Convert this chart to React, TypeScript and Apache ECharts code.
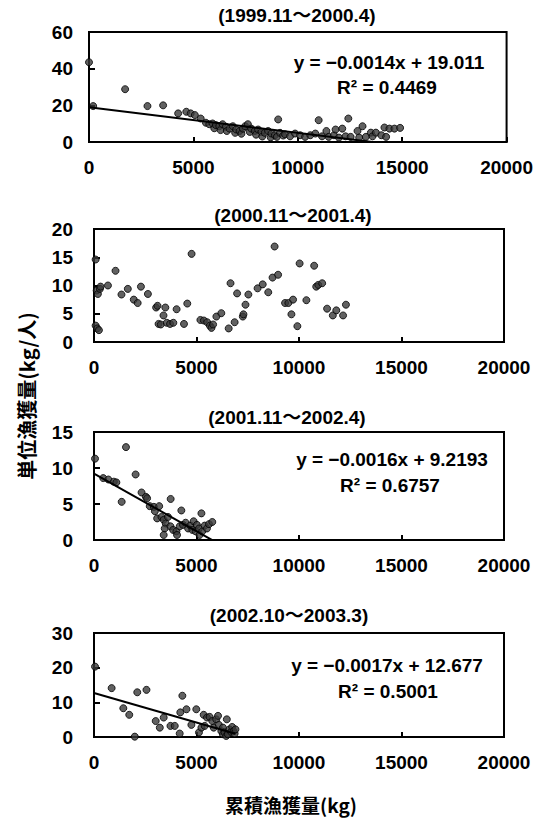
import React, { useEffect, useRef } from "react";
import * as echarts from "echarts";

// ---------- data ----------
const periodTitles = [
  "(1999.11～2000.4)",
  "(2000.11～2001.4)",
  "(2001.11～2002.4)",
  "(2002.10～2003.3)",
];
const yMaxes = [60, 20, 15, 30];
const yIntervals = [20, 5, 5, 10];
const xMax = 20000;
const xInterval = 5000;

const slopes: (number | null)[] = [-0.0014, null, -0.0016, -0.0017];
const intercepts: (number | null)[] = [19.011, null, 9.2193, 12.677];
const equationLabels: (string | null)[] = [
  "y = −0.0014x + 19.011",
  null,
  "y = −0.0016x + 9.2193",
  "y = −0.0017x + 12.677",
];
const r2Labels: (string | null)[] = ["R² = 0.4469", null, "R² = 0.6757", "R² = 0.5001"];

const yAxisTitle = "単位漁獲量(kg/人)";
const xAxisTitle = "累積漁獲量(kg)";

const season1: number[][] = [
  [0, 43.5], [200, 19.6], [1730, 28.8], [2800, 19.6], [3550, 20], [4270, 15.6], [4660, 16.5],
  [4870, 15.6], [5070, 14.7], [5350, 12.8], [5600, 10.5], [5760, 9.7], [5920, 10.1], [6000, 7.5],
  [6080, 9.2], [6240, 8.6], [6300, 6.5], [6400, 9.7], [6560, 8.3], [6600, 6], [6730, 7.3],
  [6890, 8.6], [7000, 5], [7050, 6.8], [7210, 6], [7300, 4.5], [7370, 7.3], [7480, 8.6],
  [7610, 9.7], [7700, 5.5], [7770, 7.3], [7940, 6], [8000, 4], [8100, 6.8], [8260, 5.5],
  [8300, 3], [8420, 5], [8580, 6], [8700, 2.5], [8740, 4.6], [8900, 3.7], [9000, 2.8],
  [9060, 12.3], [9150, 5], [9300, 3.5], [9390, 4.2], [9630, 3.1], [9870, 4.6], [10110, 3.7],
  [10350, 2.8], [10600, 3.7], [10840, 4.6], [11000, 11.9], [11160, 3.1], [11370, 6], [11480, 2.8],
  [11730, 3.7], [11810, 6.8], [11970, 2.4], [12130, 7.3], [12290, 3.1], [12420, 12.8], [12530, 2.8],
  [12860, 6], [12940, 2.4], [13100, 8.6], [13260, 2.8], [13500, 5.1], [13580, 3.1], [13740, 5.1],
  [14000, 3.7], [14150, 7.9], [14230, 2.8], [14390, 7.3], [14630, 7.3], [14900, 7.7],
];

const season2: number[][] = [
  [80, 2.9], [160, 2.4], [240, 2.1], [130, 9.1], [190, 8.5], [290, 9.4], [320, 9.8], [80, 14.6],
  [680, 10], [1050, 12.6], [1340, 8.4], [1650, 9.4], [1940, 7.5], [2130, 6.9], [2290, 9.8],
  [2630, 8.5], [3030, 6.1], [3100, 6.4], [3150, 3.2], [3260, 3.1], [3390, 4.7], [3480, 6.1],
  [3550, 3.4], [3710, 3.2], [3870, 3.4], [4030, 5.8], [4390, 3.2], [4550, 6.8], [4760, 15.6],
  [5190, 3.9], [5360, 3.8], [5520, 3.5], [5650, 2.9], [5730, 2.5], [5810, 3.1], [5970, 4.5],
  [6210, 5.1], [6570, 2.4], [6660, 10.4], [6860, 3.5], [6980, 8.6], [7260, 4.5], [7290, 4.9],
  [7390, 6.6], [7530, 8.4], [7980, 9.5], [8230, 10.2], [8500, 8.8], [8710, 11.4], [8810, 16.9],
  [8980, 11.9], [9320, 6.9], [9480, 6.9], [9710, 7.5], [9630, 4.9], [9920, 2.8], [10030, 13.9],
  [10360, 7.4], [10740, 13.5], [10840, 9.8], [10940, 10.1], [11130, 10.4], [11370, 5.9],
  [11650, 4.7], [11820, 5.6], [12150, 4.7], [12290, 6.6],
];

const season3: number[][] = [
  [50, 11.3], [450, 8.6], [700, 8.4], [970, 8.1], [1090, 8], [1350, 5.3], [1560, 12.9],
  [2030, 9.1], [2320, 6.6], [2530, 6], [2590, 5.8], [2720, 4.7], [2920, 4.6], [2970, 4],
  [3180, 4.7], [3080, 3], [3290, 3.2], [3400, 2.8], [3500, 2.3], [3450, 1.6], [3400, 0.7],
  [3610, 3.2], [3740, 5.7], [3730, 1.9], [3860, 1.4], [4020, 1.2], [4050, 0.7], [4180, 1.9],
  [4260, 4.1], [4340, 2.1], [4470, 2.4], [4590, 1.6], [4700, 2], [4800, 1.4], [4860, 2.6],
  [4960, 1.2], [5020, 2.1], [5120, 1.6], [5150, 0.7], [5240, 3.7], [5280, 1.2], [5400, 2],
  [5510, 1.6], [5610, 2.2], [5770, 2.5],
];

const season4: number[][] = [
  [50, 20.3], [860, 14.1], [1430, 8.3], [1720, 6.4], [1990, 0.1], [2110, 12.9], [2560, 13.6],
  [3010, 4.6], [3210, 2.7], [3400, 5.6], [3730, 3.2], [3940, 3.2], [4180, 1], [4210, 7.1],
  [4310, 11.9], [4510, 8], [4750, 3.5], [4990, 8], [5120, 1.3], [5240, 2.7], [5350, 6.4],
  [5400, 3.2], [5510, 5.6], [5640, 5.8], [5770, 4.6], [5840, 2.7], [5960, 5.1], [6050, 6.1],
  [6090, 3.5], [6210, 1.7], [6290, 2.7], [6290, 0.8], [6370, 1.3], [6450, 0.3], [6480, 5.1],
  [6530, 0.8], [6610, 2.2], [6690, 1.5], [6740, 2.9], [6810, 1.7], [6860, 1], [6900, 2.2],
];

const seasons = [season1, season2, season3, season4];

// ---------- layout (pixels) ----------
const grids = [
  { left: 89, top: 32, width: 418, height: 110 },
  { left: 94, top: 229, width: 410, height: 113 },
  { left: 94, top: 432, width: 410, height: 108 },
  { left: 94, top: 633, width: 410, height: 104 },
];
const yLabelMargins = [16, 21, 21, 21];
const titlePos = [
  [297, 15],
  [293, 215],
  [287, 417],
  [289, 615],
];
const eqPos = [
  [389, 62, 387, 87],
  null,
  [392, 459, 390, 485],
  [387, 665, 388, 691],
];

const LATIN = "'Liberation Sans', Arial, 'Noto Sans CJK JP', sans-serif";
const CJK = "'Noto Sans CJK JP', 'Liberation Sans', sans-serif";

export default function App() {
  const ref = useRef<HTMLDivElement>(null);

  useEffect(() => {
    if (!ref.current) return;
    const chart = echarts.init(ref.current, undefined, { renderer: "svg" });

    const xAxes: any[] = [];
    const yAxes: any[] = [];
    const series: any[] = [];
    const graphics: any[] = [];

    grids.forEach((g, i) => {
      xAxes.push({
        type: "value",
        gridIndex: i,
        min: 0,
        max: xMax,
        interval: xInterval,
        splitLine: { show: false },
        axisLine: { show: true, onZero: false, lineStyle: { color: "#000", width: 2 } },
        axisTick: { show: true, inside: true, length: 5, lineStyle: { color: "#000", width: 2 } },
        axisLabel: {
          show: true,
          margin: 16,
          color: "#000",
          fontSize: 19,
          fontWeight: "bold",
          fontFamily: LATIN,
          formatter: (v: number) => String(v),
        },
      });
      yAxes.push({
        type: "value",
        gridIndex: i,
        min: 0,
        max: yMaxes[i],
        interval: yIntervals[i],
        splitLine: { show: false },
        axisLine: { show: true, onZero: false, lineStyle: { color: "#000", width: 2 } },
        axisTick: { show: true, inside: true, length: 6, lineStyle: { color: "#000", width: 2 } },
        axisLabel: {
          show: true,
          margin: yLabelMargins[i],
          color: "#000",
          fontSize: 19,
          fontWeight: "bold",
          fontFamily: LATIN,
          formatter: (v: number) => String(v),
        },
      });
      series.push({
        type: "scatter",
        xAxisIndex: i,
        yAxisIndex: i,
        data: seasons[i],
        symbol: "circle",
        symbolSize: 7,
        itemStyle: { color: "#3a3a3a", borderColor: "#000", borderWidth: 1 },
        z: 3,
      });
      const m = slopes[i];
      const b = intercepts[i];
      if (m !== null && b !== null) {
        const xs = seasons[i].map((p) => p[0]);
        const x0 = Math.min(...xs, 0);
        const x1 = Math.max(...xs);
        series.push({
          type: "line",
          xAxisIndex: i,
          yAxisIndex: i,
          data: [
            [x0, m * x0 + b],
            [x1, m * x1 + b],
          ],
          symbol: "none",
          clip: true,
          lineStyle: { color: "#000", width: 2 },
          z: 4,
        });
      }
      graphics.push({
        type: "text",
        x: titlePos[i][0],
        y: titlePos[i][1],
        style: {
          text: periodTitles[i],
          fill: "#000",
          font: `bold 19px ${LATIN}`,
          align: "center",
          verticalAlign: "middle",
        },
      });
      const ep = eqPos[i];
      if (ep && equationLabels[i] && r2Labels[i]) {
        graphics.push({
          type: "text",
          x: ep[0],
          y: ep[1],
          style: {
            text: equationLabels[i],
            fill: "#000",
            font: `bold 19px ${LATIN}`,
            align: "center",
            verticalAlign: "middle",
          },
        });
        graphics.push({
          type: "text",
          x: ep[2],
          y: ep[3],
          style: {
            text: r2Labels[i],
            fill: "#000",
            font: `bold 19px ${LATIN}`,
            align: "center",
            verticalAlign: "middle",
          },
        });
      }
    });

    graphics.push({
      type: "text",
      x: 26,
      y: 396,
      rotation: Math.PI / 2,
      style: {
        text: yAxisTitle,
        fill: "#000",
        font: `bold 20px ${CJK}`,
        align: "center",
        verticalAlign: "middle",
      },
    });
    graphics.push({
      type: "text",
      x: 291,
      y: 804,
      style: {
        text: xAxisTitle,
        fill: "#000",
        font: `bold 19px ${CJK}`,
        align: "center",
        verticalAlign: "middle",
      },
    });

    chart.setOption({
      animation: false,
      backgroundColor: "#fff",
      grid: grids.map((g) => ({
        ...g,
        show: true,
        borderColor: "#000",
        borderWidth: 2,
        backgroundColor: "transparent",
        containLabel: false,
      })),
      xAxis: xAxes,
      yAxis: yAxes,
      series,
      graphic: graphics,
    });

    return () => chart.dispose();
  }, []);

  return (
    <div
      ref={ref}
      style={{ position: "absolute", left: 0, top: 0, width: 536, height: 822, background: "#fff" }}
    />
  );
}
